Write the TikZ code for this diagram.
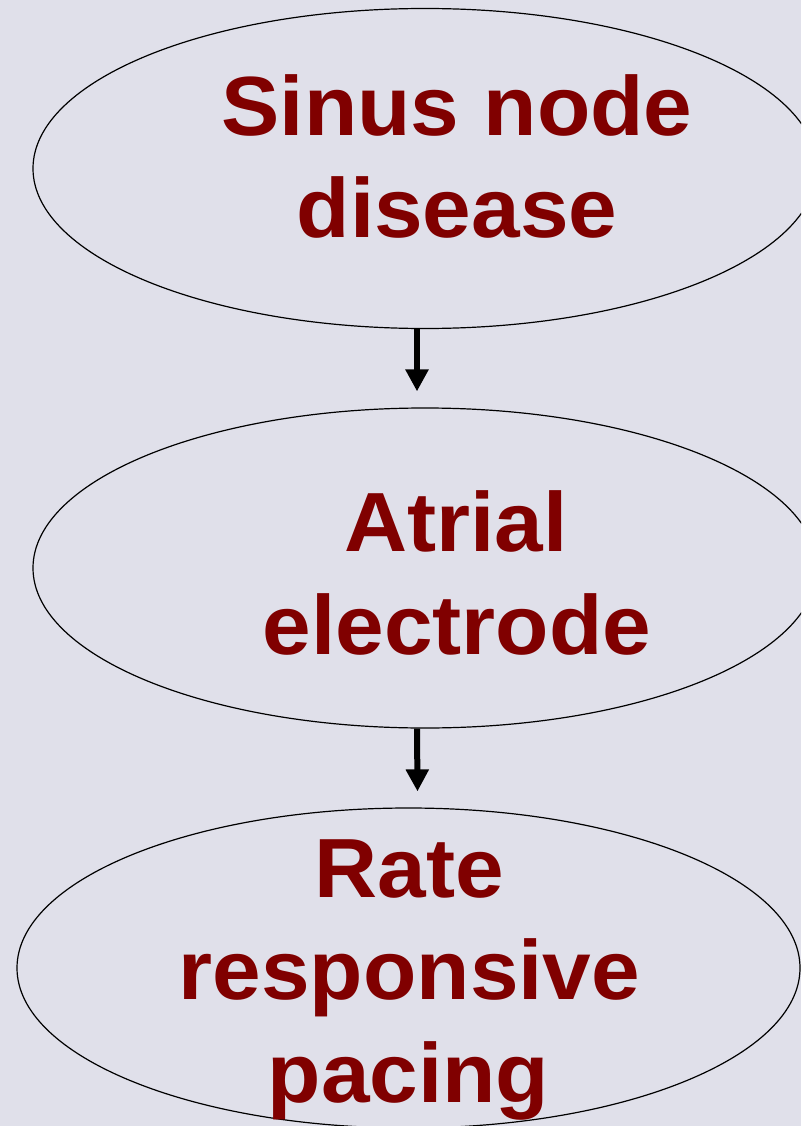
\documentclass[tikz,border=0pt]{standalone}
\usepackage{fontspec}
\setmainfont{Liberation Sans}[FakeStretch=1.04]
\usetikzlibrary{shapes.geometric,arrows.meta}
\definecolor{bgpage}{RGB}{224,224,234}
\definecolor{maroontxt}{RGB}{128,0,0}
\tikzset{
  bubble/.style={ellipse,draw=black,line width=1.2pt,minimum width=784pt,minimum height=320pt,inner sep=0pt},
  label line/.style={anchor=base,inner sep=0pt,text=maroontxt,font=\fontsize{84}{100}\selectfont\bfseries},
  flow/.style={draw=black,line width=6pt,-{Triangle[width=22pt,length=22pt]}}
}
\begin{document}
\begin{tikzpicture}[x=1pt,y=-1pt]
  % page background and frame
  \fill[bgpage] (0,0) rectangle (801,1126);
  \useasboundingbox (0,0) rectangle (801,1126);
  \begin{scope}
    \clip (0,0) rectangle (801,1126);
    % the three ellipses
    \node[bubble] (e1) at (425,168.5) {};
    \node[bubble] (e2) at (425,568) {};
    \node[bubble,minimum width=783pt] (e3) at (408.5,968) {};
    % texts
    \node[label line] (t1a) at (457,136) {Sinus node};
    \node[label line] (t1b) at (457,237) {disease};
    \node[label line] (t2a) at (456,551) {Atrial};
    \node[label line] (t2b) at (457,654) {electrode};
    \node[label line] (t3a) at (409.5,897) {Rate};
    \node[label line] (t3b) at (409.5,999) {responsive};
    \node[label line] (t3c) at (408.5,1102) {pacing};
  \end{scope}
  % arrows between the ellipses
  \draw[flow] ([xshift=-8pt]e1.south) -- ([xshift=-8pt,yshift=16pt]e2.north);
  \draw[flow] ([xshift=-8pt]e2.south) -- ([xshift=9pt,yshift=16pt]e3.north);
\end{tikzpicture}
\end{document}
